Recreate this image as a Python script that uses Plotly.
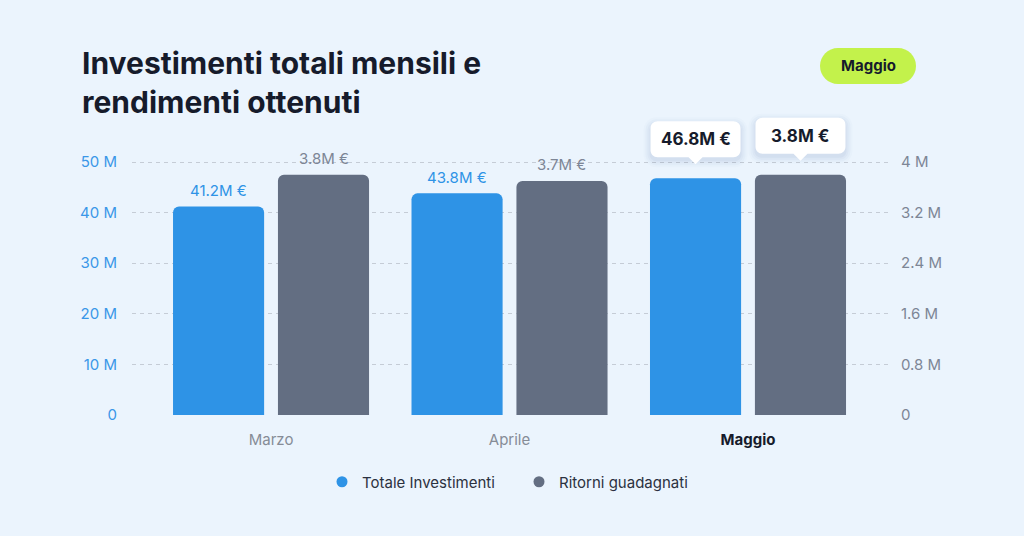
import plotly.graph_objects as go

# ---- data ----
months = ["Marzo", "Aprile", "Maggio"]
investimenti = [41.2, 43.8, 46.8]      # M €
ritorni = [3.8, 3.7, 3.8]              # M €
left_ticks = [0, 10, 20, 30, 40, 50]
left_ticktext = ["0", "10 M", "20 M", "30 M", "40 M", "50 M"]
right_ticks = [0, 0.8, 1.6, 2.4, 3.2, 4.0]
right_ticktext = ["0", "0.8 M", "1.6 M", "2.4 M", "3.2 M", "4 M"]
highlight = "Maggio"
title_lines = ["Investimenti totali mensili e", "rendimenti ottenuti"]

# ---- style / layout ----
BG = "#EBF4FD"
BLUE = "#2E93E6"
GRAY = "#636E82"
DARK = "#161B2B"
FONT = "Inter"
BAR_W = 0.382
OFF_B = -0.411
OFF_G = 0.029

PLOT_L, PLOT_R = 132, 888          # pixel extents of plot area
PLOT_T, PLOT_B = 100, 415
AX_TOP_PX = 162                    # pixel row of the top tick (50 M / 4 M)
scale = (PLOT_B - PLOT_T) / (PLOT_B - AX_TOP_PX)
y1_max = left_ticks[-1] * scale
y2_max = right_ticks[-1] * scale

def px_x(px):
    return (px - PLOT_L) / (PLOT_R - PLOT_L)

def px_y(px):
    return (PLOT_B - px) / (PLOT_B - PLOT_T)

xs = list(range(len(months)))

def rrect(x0, y0, x1, y1, r, tip=None):
    """rounded rectangle path (pixel coords, y up); optional pointer at bottom"""
    k = 0.5523 * r
    p = f"M{x0 + r},{y0} "
    if tip is not None:
        tx, ty, hw = tip
        p += f"L{tx - hw},{y0} L{tx},{ty} L{tx + hw},{y0} "
    p += f"L{x1 - r},{y0} C{x1 - r + k},{y0} {x1},{y0 + r - k} {x1},{y0 + r} "
    p += f"L{x1},{y1 - r} C{x1},{y1 - r + k} {x1 - r + k},{y1} {x1 - r},{y1} "
    p += f"L{x0 + r},{y1} C{x0 + r - k},{y1} {x0},{y1 - r + k} {x0},{y1 - r} "
    p += f"L{x0},{y0 + r} C{x0},{y0 + r - k} {x0 + r - k},{y0} {x0 + r},{y0} Z"
    return p

fig = go.Figure()
fig.add_trace(go.Bar(x=xs, y=investimenti, width=BAR_W, offset=OFF_B,
                     marker=dict(color=BLUE, line=dict(width=0)),
                     name="Totale Investimenti", showlegend=False, yaxis="y",
                     hoverinfo="skip"))
fig.add_trace(go.Bar(x=xs, y=ritorni, width=BAR_W, offset=OFF_G,
                     marker=dict(color=GRAY, line=dict(width=0)),
                     name="Ritorni guadagnati", showlegend=False, yaxis="y2",
                     hoverinfo="skip"))
# legend dummies (circle markers)
fig.add_trace(go.Scatter(x=[None], y=[None], mode="markers", name="Totale Investimenti",
                         marker=dict(size=11, color=BLUE)))
fig.add_trace(go.Scatter(x=[None], y=[None], mode="markers", name="Ritorni guadagnati",
                         marker=dict(size=11, color=GRAY)))

annotations = []
shapes = []
cb = OFF_B + BAR_W / 2
cg = OFF_G + BAR_W / 2
for i, m in enumerate(months):
    if m != highlight:
        annotations.append(dict(x=i + cb, y=investimenti[i], xref="x", yref="y",
                                text=f"{investimenti[i]}M €", showarrow=False, yshift=16,
                                xanchor="center", yanchor="middle",
                                font=dict(size=15, color=BLUE, family=FONT)))
        annotations.append(dict(x=i + cg, y=ritorni[i], xref="x", yref="y2",
                                text=f"{ritorni[i]}M €", showarrow=False, yshift=16,
                                xanchor="center", yanchor="middle",
                                font=dict(size=15, color="#7D8696", family=FONT)))
    else:
        for xc, val, yr in [(i + cb, investimenti[i], "y"), (i + cg, ritorni[i], "y2")]:
            # soft shadow
            for s, a in [(7, 0.025), (5, 0.035), (3, 0.045), (1, 0.06)]:
                shapes.append(dict(type="path", xref="x", yref=yr, xsizemode="pixel",
                                   ysizemode="pixel", xanchor=xc, yanchor=val,
                                   path=rrect(-45 - s, 21 - s - 3, 45 + s, 57 + s - 3, 6 + s),
                                   fillcolor=f"rgba(90,120,170,{a})", line=dict(width=0),
                                   layer="above"))
            shapes.append(dict(type="path", xref="x", yref=yr, xsizemode="pixel",
                               ysizemode="pixel", xanchor=xc, yanchor=val,
                               path=rrect(-45, 21, 45, 57, 7, tip=(0, 14, 7)),
                               fillcolor="white", line=dict(width=0), layer="above"))
            annotations.append(dict(x=xc, y=val, xref="x", yref=yr,
                                    text=f"<b>{val}M €</b>", showarrow=False, yshift=39,
                                    xanchor="center", yanchor="middle",
                                    font=dict(size=17, color=DARK, family=FONT)))

# pill "Maggio"
pill_x, pill_y = px_x(868), px_y(66)
shapes.append(dict(type="path", xref="paper", yref="paper", xsizemode="pixel",
                   ysizemode="pixel", xanchor=pill_x, yanchor=pill_y,
                   path=rrect(-48, -18, 48, 18, 18), fillcolor="#C3F24B",
                   line=dict(width=0), layer="above"))
annotations.append(dict(x=pill_x, y=pill_y, xref="paper", yref="paper",
                        text=f"<b>{highlight}</b>", showarrow=False,
                        xanchor="center", yanchor="middle",
                        font=dict(size=15, color=DARK, family=FONT)))

# title (two lines, one text block)
annotations.append(dict(x=px_x(80), y=px_y(83), xref="paper", yref="paper",
                        text="<b>" + "<br>".join(title_lines) + "</b>", showarrow=False,
                        xanchor="left", yanchor="middle", align="left",
                        font=dict(size=30, color=DARK, family=FONT)))

ticktext_x = [f'<span style="color:{DARK}"><b>{m}</b></span>' if m == highlight else m
              for m in months]

fig.update_layout(
    width=1024, height=536,
    paper_bgcolor=BG, plot_bgcolor=BG,
    margin=dict(l=PLOT_L, r=1024 - PLOT_R, t=PLOT_T, b=536 - PLOT_B),
    barmode="overlay",
    barcornerradius=6,
    font=dict(family=FONT),
    xaxis=dict(range=[-0.583, 2.587], tickvals=xs, ticktext=ticktext_x,
               showgrid=False, zeroline=False, showline=False, ticks="",
               ticklabelstandoff=14,
               tickfont=dict(size=15, color="#868C97", family=FONT), fixedrange=True),
    yaxis=dict(range=[0, y1_max], tickvals=left_ticks, ticktext=left_ticktext,
               showgrid=True, gridcolor="#C5CCD6", griddash="4px,4px", gridwidth=1,
               zeroline=False, showline=False, ticks="", ticklabelstandoff=14,
               tickfont=dict(size=15, color="#3A97E8", family=FONT)),
    yaxis2=dict(range=[0, y2_max], tickvals=right_ticks, ticktext=right_ticktext,
                overlaying="y", side="right", showgrid=False, zeroline=False,
                showline=False, ticks="", ticklabelstandoff=12,
                tickfont=dict(size=15, color="#7D8696", family=FONT)),
    legend=dict(orientation="h", x=px_x(519), xanchor="center", y=px_y(482),
                yanchor="middle", font=dict(size=15, color="#2B3140", family=FONT),
                bgcolor="rgba(0,0,0,0)", itemclick=False, entrywidth=152),
    annotations=annotations,
    shapes=shapes,
)

fig.write_html("out.html", config={"displayModeBar": False})
